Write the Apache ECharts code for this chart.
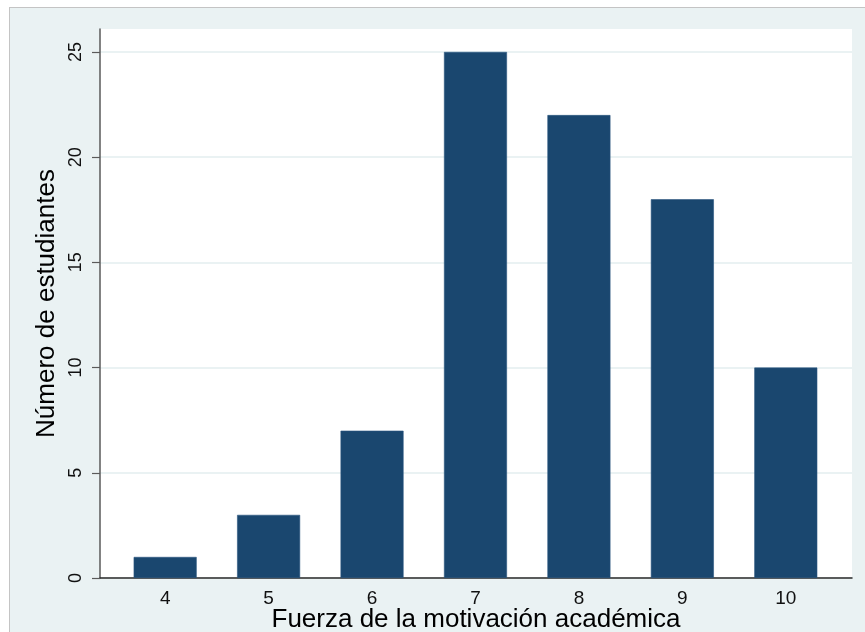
<!DOCTYPE html>
<html>
<head>
<meta charset="utf-8">
<script src="https://cdn.jsdelivr.net/npm/echarts@6/dist/echarts.min.js"></script>
<style>
html,body{margin:0;padding:0;background:#ffffff;}
#frame{position:absolute;left:9px;top:7px;width:856px;height:625px;background:#eaf2f3;border-top:1px solid #c4c4c4;border-left:1px solid #c4c4c4;}
#chart{position:absolute;left:0;top:0;width:865px;height:632px;}
</style>
</head>
<body>
<div id="frame"></div>
<div id="chart"></div>
<script>
var categories = [4, 5, 6, 7, 8, 9, 10];
var counts = [1, 3, 7, 25, 22, 18, 10];
var yTicks = [0, 5, 10, 15, 20, 25];

var barData = categories.map(function (c, i) { return [c, counts[i]]; });

var chart = echarts.init(document.getElementById('chart'), null, {renderer: 'canvas'});
chart.setOption({
  backgroundColor: 'transparent',
  animation: false,
  grid: {left: 100, right: 13, top: 29, bottom: 54, show: true, backgroundColor: '#ffffff', borderWidth: 0, outerBoundsMode: 'none', containLabel: false},
  xAxis: {
    type: 'value',
    min: 3.37,
    max: 10.64,
    name: 'Fuerza de la motivación académica',
    nameLocation: 'middle',
    nameGap: 29,
    nameMoveOverlap: false,
    nameTextStyle: {fontFamily: 'Liberation Sans', fontSize: 26, color: '#000', lineHeight: 26},
    axisLine: {show: true, onZero: false, lineStyle: {color: '#2a2a2a', width: 1.5}},
    axisTick: {show: false},
    splitLine: {show: false},
    axisLabel: {customValues: categories, fontFamily: 'Liberation Sans', fontSize: 19, color: '#111', margin: 11}
  },
  yAxis: {
    type: 'value',
    min: 0,
    max: 26.09,
    name: 'Número de estudiantes',
    nameLocation: 'middle',
    nameGap: 40,
    nameMoveOverlap: false,
    nameRotate: 90,
    nameTextStyle: {fontFamily: 'Liberation Sans', fontSize: 26, color: '#000', lineHeight: 26},
    axisLine: {show: true, lineStyle: {color: '#5a5a5a', width: 1.5}},
    axisTick: {show: true, length: 8, customValues: yTicks, lineStyle: {color: '#5a5a5a', width: 1.2}},
    splitLine: {show: true, lineStyle: {color: '#eaf2f3', width: 2}},
    axisLabel: {customValues: yTicks, rotate: 90, fontFamily: 'Liberation Sans', fontSize: 18, color: '#111', margin: 15}
  },
  series: [{
    type: 'bar',
    data: barData,
    barWidth: 63,
    itemStyle: {color: '#1a476f', borderColor: '#2a5580', borderWidth: 0.6}
  }]
});
</script>
</body>
</html>
